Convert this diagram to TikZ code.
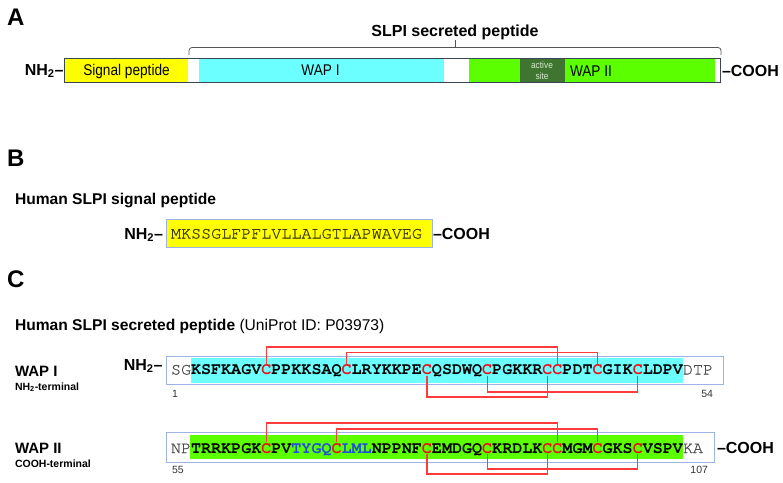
\documentclass[tikz,border=0pt]{standalone}
\usepackage{fontspec}
\setmainfont{Liberation Sans}
\newfontfamily\seqfont{texgyrecursor}[Extension=.otf, UprightFont=*-regular, BoldFont=*-bold]
\newfontfamily\seqreg{texgyrecursor-regular.otf}[FakeBold=0.8]
\newfontfamily\narrowfont[FakeStretch=0.88]{Liberation Sans}
\definecolor{sigyellow}{HTML}{FFFF00}
\definecolor{wapcyan}{HTML}{6CFFFF}
\definecolor{wapgreen}{HTML}{5CFF00}
\definecolor{actgreen}{HTML}{3F7531}
\definecolor{actlight}{HTML}{D5E8CC}
\definecolor{boxblue}{HTML}{9DB2E6}
\definecolor{bondred}{HTML}{FF3B3B}
\definecolor{cysred}{HTML}{E8101A}
\definecolor{wapblue}{HTML}{1F4FE0}
\definecolor{restgray}{HTML}{4E4E4E}
\definecolor{olivetext}{HTML}{3C3C10}
\definecolor{baredge}{HTML}{3A4656}
\definecolor{brkgray}{HTML}{555555}
\definecolor{numgray}{HTML}{333333}
\tikzset{
 lbl/.style={inner sep=0pt, outer sep=0pt},
 head/.style={lbl, anchor=base west, font=\bfseries\fontsize{24}{26}\selectfont},
 title/.style={lbl, anchor=base west, font=\bfseries\fontsize{15.6}{18}\selectfont},
 term/.style={lbl, font=\bfseries\fontsize{16}{18}\selectfont},
 small/.style={lbl, anchor=base west, font=\bfseries\fontsize{10.5}{12}\selectfont},
 seg/.style={lbl, anchor=base, font=\narrowfont\fontsize{15.5}{17}\selectfont},
 rest/.style={lbl, anchor=base west, text=restgray, font=\seqreg\fontsize{16.73}{18}\selectfont},
 core/.style={lbl, anchor=base west, text=black, font=\seqfont\bfseries\fontsize{16.73}{18}\selectfont},
 blu/.style={core, text=wapblue},
 cys/.style={core, text=cysred, outer ysep=1pt},
 bond/.style={draw=bondred, line width=1.1pt},
 seqbox/.style={draw=boxblue, line width=0.9pt},
 num/.style={lbl, text=numgray, font=\fontsize{10.5}{12}\selectfont},
 brk/.style={draw=brkgray, line width=0.8pt, rounded corners=3pt},
}
\begin{document}
\begin{tikzpicture}[x=1pt,y=-1pt]
\useasboundingbox (0,0) rectangle (783,482);

% ---------------- Panel A ----------------
\node[head] (A) at (7,25) {A};
\node[term, anchor=base] (ttl) at (455,36) {SLPI secreted peptide};
\draw[brk] (189,55) |- (455,47.5) -| (721,55);
\draw[draw=brkgray, line width=0.8pt] (455,47.5) -- (455,40);

\fill[sigyellow] (65,58.5) rectangle (188,81.5);
\fill[wapcyan] (199,58.5) rectangle (444,81.5);
\fill[wapgreen] (469,58.5) rectangle (715,81.5);
\fill[actgreen] (520,58.5) rectangle (565,81.5);
\draw[baredge, line width=1pt] (64.5,58) rectangle (720.5,82);

\node[seg] (sig) at (126.5,75.5) {Signal peptide};
\node[seg] (w1) at (320.5,75.5) {WAP I};
\node[seg, anchor=base west] (w2) at (570,76) {WAP II};
\node[lbl, anchor=base, text=actlight, font=\narrowfont\fontsize{9.5}{10}\selectfont] (act1) at (542,68) {active};
\node[lbl, anchor=base, text=actlight, font=\narrowfont\fontsize{9.5}{10}\selectfont] (act2) at (542,79.5) {site};
\node[term, anchor=base east] (nA) at (63.5,75) {NH\textsubscript{2}–};
\node[term, anchor=base west] (cA) at (722,76) {–COOH};

% ---------------- Panel B ----------------
\node[head] (B) at (7,166) {B};
\node[title] (tB) at (15,204) {Human SLPI signal peptide};
\node[draw=boxblue, fill=sigyellow, line width=0.9pt, minimum width=266pt, minimum height=28pt, anchor=north west, inner sep=0pt] (sbox) at (166,219) {};
\node[rest, text=olivetext] (sp) at (171,238.5) {MKSSGLFPFLVLLALGTLAPWAVEG};
\node[term, anchor=base east] (nB) at (163,239) {NH\textsubscript{2}–};
\node[term, anchor=base west] (cB) at (433,239) {–COOH};

% ---------------- Panel C ----------------
\node[head] (C) at (7,287) {C};
\node[title] (tC) at (15,330) {Human SLPI secreted peptide \mdseries(UniProt ID: P03973)};

% row 1
\node[title, font=\bfseries\fontsize{15}{17}\selectfont] (l1) at (15,376) {WAP I};
\node[small] (l1s) at (15,390) {NH\textsubscript{2}-terminal};
\node[term, anchor=base east] (nC) at (162.5,370) {NH\textsubscript{2}–};
\draw[seqbox] (166,356) rectangle (723,384);
\fill[wapcyan] (191,357.5) rectangle (683,382.5);

\node[rest] (a0) at (171,374.5) {SG};
\node[core] (a1) at (a0.base east) {KSFKAGV};
\node[cys]  (p1) at (a1.base east) {C};
\node[core] (a2) at (p1.base east) {PPKKSAQ};
\node[cys]  (p2) at (a2.base east) {C};
\node[core] (a3) at (p2.base east) {LRYKKPE};
\node[cys]  (p3) at (a3.base east) {C};
\node[core] (a4) at (p3.base east) {QSDWQ};
\node[cys]  (p4) at (a4.base east) {C};
\node[core] (a5) at (p4.base east) {PGKKR};
\node[cys]  (p5) at (a5.base east) {C};
\node[cys]  (p6) at (p5.base east) {C};
\node[core] (a6) at (p6.base east) {PDT};
\node[cys]  (p7) at (a6.base east) {C};
\node[core] (a7) at (p7.base east) {GIK};
\node[cys]  (p8) at (a7.base east) {C};
\node[core] (a8) at (p8.base east) {LDPV};
\node[rest] (a9) at (a8.base east) {DTP};

\draw[bond] (p1.north) -- (p1.north |- 0,347) -| (p6.north);
\draw[bond] (p2.north) -- (p2.north |- 0,352.5) -| (p7.north);
\draw[bond] (p3.south) -- (p3.south |- 0,397) -| (p5.south);
\draw[bond] (p4.south) -- (p4.south |- 0,392) -| (p8.south);

\node[num, anchor=base west] (n1) at (172,397) {1};
\node[num, anchor=base east] (n54) at (713,397) {54};

% row 2
\node[title, font=\bfseries\fontsize{15}{17}\selectfont] (l2) at (15,453) {WAP II};
\node[small] (l2s) at (15,467) {COOH-terminal};
\draw[seqbox] (166,432) rectangle (714,462);
\fill[wapgreen] (190,435) rectangle (683,459);

\node[rest] (b0) at (171,453) {NP};
\node[core] (b1) at (b0.base east) {TRRKPGK};
\node[cys]  (q1) at (b1.base east) {C};
\node[core] (b2) at (q1.base east) {PV};
\node[blu]  (b3) at (b2.base east) {TYGQ};
\node[cys]  (q2) at (b3.base east) {C};
\node[blu]  (b4) at (q2.base east) {LML};
\node[core] (b5) at (b4.base east) {NPPNF};
\node[cys]  (q3) at (b5.base east) {C};
\node[core] (b6) at (q3.base east) {EMDGQ};
\node[cys]  (q4) at (b6.base east) {C};
\node[core] (b7) at (q4.base east) {KRDLK};
\node[cys]  (q5) at (b7.base east) {C};
\node[cys]  (q6) at (q5.base east) {C};
\node[core] (b8) at (q6.base east) {MGM};
\node[cys]  (q7) at (b8.base east) {C};
\node[core] (b9) at (q7.base east) {GKS};
\node[cys]  (q8) at (b9.base east) {C};
\node[core] (b10) at (q8.base east) {VSPV};
\node[rest] (b11) at (b10.base east) {KA};

\draw[bond] (q1.north) -- (q1.north |- 0,423) -| (q6.north);
\draw[bond] (q2.north) -- (q2.north |- 0,429) -| (q7.north);
\draw[bond] (q3.south) -- (q3.south |- 0,474) -| (q5.south);
\draw[bond] (q4.south) -- (q4.south |- 0,469) -| (q8.south);

\node[term, anchor=base west] (cC) at (717,453) {–COOH};
\node[num, anchor=base west] (n55) at (172,473) {55};
\node[num, anchor=base east] (n107) at (708,473) {107};
\end{tikzpicture}
\end{document}
